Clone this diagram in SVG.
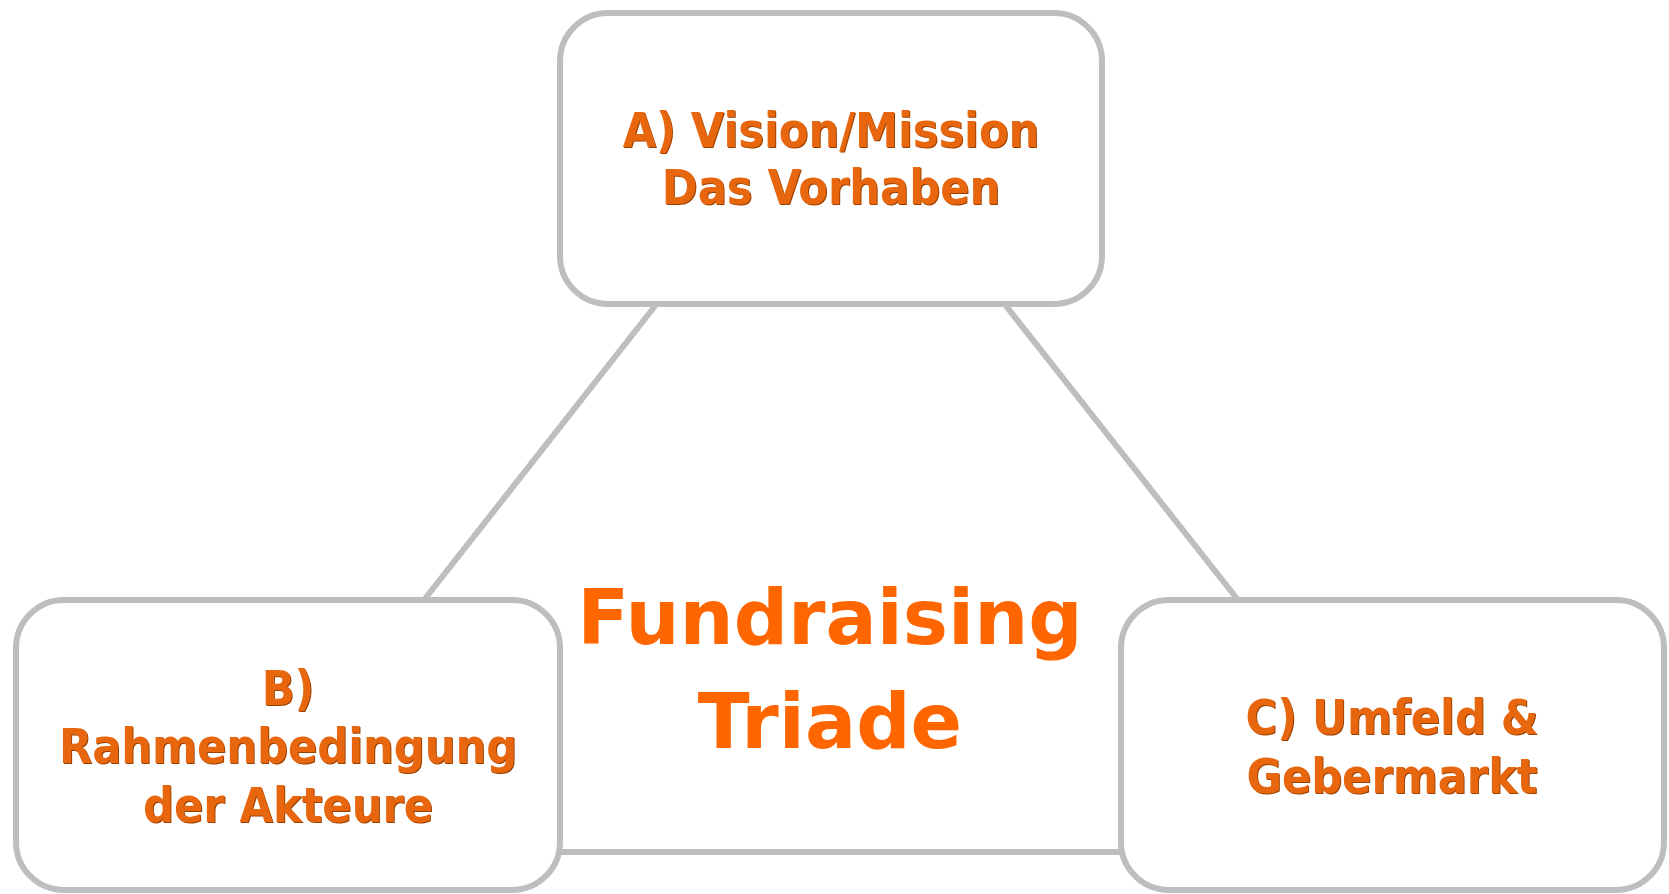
<svg xmlns="http://www.w3.org/2000/svg" width="1669" height="894" viewBox="0 0 1669 894">
<defs>
<style>
.box{fill:#ffffff;stroke:#bebebe;stroke-width:6}
.conn{stroke:#bebebe;stroke-width:6;fill:none}
.lbl{font-family:"DejaVu Sans Condensed","DejaVu Sans",sans-serif;font-stretch:condensed;font-weight:bold;font-size:48px;fill:#e8660e;text-anchor:middle;filter:url(#emb)}
.title{font-family:"DejaVu Sans",sans-serif;font-weight:bold;font-size:76px;fill:#ff6600;text-anchor:middle}
</style>
<filter id="emb" x="-5%" y="-20%" width="110%" height="140%">
<feOffset in="SourceAlpha" dx="1.2" dy="1.2" result="o"/>
<feFlood flood-color="#9a4000"/>
<feComposite in2="o" operator="in" result="s"/>
<feMerge><feMergeNode in="s"/><feMergeNode in="SourceGraphic"/></feMerge>
</filter>
</defs>
<rect width="1669" height="894" fill="#ffffff"/>
<g id="connectors">
<line class="conn" x1="655" y1="306" x2="424" y2="600"/>
<line class="conn" x1="1006" y1="306" x2="1238" y2="600"/>
<line class="conn" x1="560" y1="852" x2="1121" y2="852"/>
</g>
<g id="center">
<text class="title" x="830" y="644">Fundraising</text>
<text class="title" x="830" y="748">Triade</text>
</g>
<g id="nodeA">
<rect class="box" x="560" y="13" width="542" height="291" rx="48"/>
<text class="lbl" x="831" y="147">A) Vision/Mission</text>
<text class="lbl" x="831" y="204">Das Vorhaben</text>
</g>
<g id="nodeB">
<rect class="box" x="16" y="600" width="544" height="290" rx="48"/>
<text class="lbl" x="288" y="705">B)</text>
<text class="lbl" x="288" y="763">Rahmenbedingung</text>
<text class="lbl" x="288" y="822">der Akteure</text>
</g>
<g id="nodeC">
<rect class="box" x="1121" y="600" width="543" height="290" rx="48"/>
<text class="lbl" x="1392" y="734">C) Umfeld &amp;</text>
<text class="lbl" x="1392" y="793">Gebermarkt</text>
</g>
</svg>
